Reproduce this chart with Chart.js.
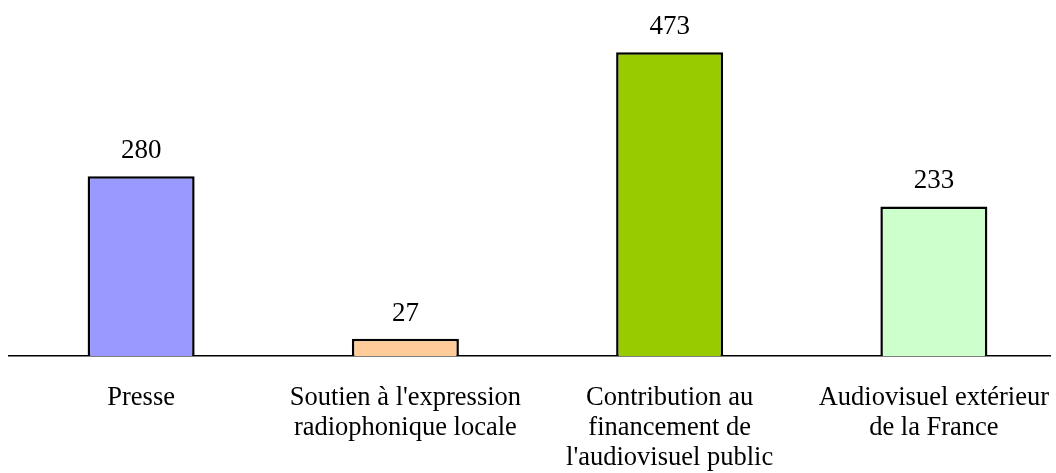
<!DOCTYPE html>
<html>
<head>
<meta charset="utf-8">
<script src="https://cdn.jsdelivr.net/npm/chart.js@4/dist/chart.umd.min.js"></script>
<style>
  html, body { margin: 0; padding: 0; background: #fff; overflow: hidden; }
  #wrap { width: 1051px; height: 473px; overflow: hidden; }
</style>
</head>
<body>
<div id="wrap"><canvas id="barChart" width="1066" height="473"></canvas></div>
<script>
const labels = [
    "Presse",
    ["Soutien à l'expression", "radiophonique locale"],
    ["Contribution au", "financement de", "l'audiovisuel public"],
    ["Audiovisuel extérieur", "de la France"]
];
const values = [280, 27, 473, 233];
const colors = ["#9999FF", "#FFCC99", "#99CC00", "#CCFFCC"];

const FONT = "'Liberation Serif', 'Times New Roman', serif";

// valeurs au-dessus des barres
const valueLabels = {
    id: 'valueLabels',
    afterDatasetsDraw(chart) {
        const ctx = chart.ctx;
        const meta = chart.getDatasetMeta(0);
        ctx.save();
        ctx.font = "27px " + FONT;
        ctx.fillStyle = "#000";
        ctx.textAlign = "center";
        ctx.textBaseline = "alphabetic";
        meta.data.forEach((bar, i) => {
            ctx.fillText(values[i], bar.x, bar.y - 18);
        });
        ctx.restore();
    }
};

const CHART = document.getElementById("barChart");
let barChart = new Chart(CHART, {
    type: 'bar',
    data: {
        labels: labels,
        datasets: [{
            data: values,
            backgroundColor: colors,
            borderColor: '#000',
            borderWidth: 2.5,
            categoryPercentage: 1,
            barPercentage: 0.405
        }]
    },
    options: {
        responsive: false,
        animation: false,
        layout: { padding: { top: 35, left: 9, right: 0, bottom: 0 } },
        plugins: { legend: { display: false }, tooltip: { enabled: false } },
        scales: {
            x: {
                grid: { display: false, drawTicks: false },
                border: { display: true, color: '#000', width: 1.5 },
                ticks: {
                    color: '#000',
                    font: { family: FONT, size: 26.5, lineHeight: 1.14 },
                    padding: 27,
                    maxRotation: 0,
                    autoSkip: false
                },
                afterFit(scale) {
                    scale.height = 117;
                    scale.paddingLeft = 0;
                    scale.paddingRight = 0;
                }
            },
            y: {
                display: false,
                min: 0,
                max: 500
            }
        }
    },
    plugins: [valueLabels]
});
</script>
</body>
</html>
